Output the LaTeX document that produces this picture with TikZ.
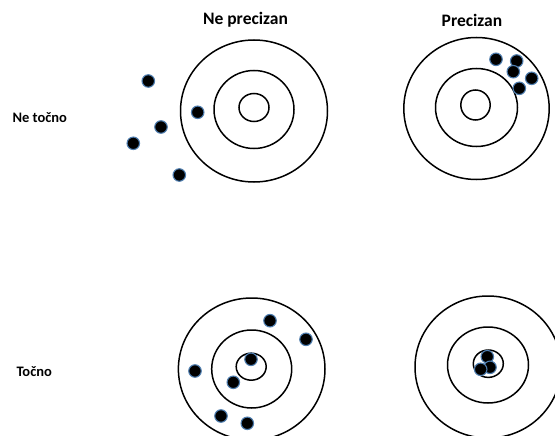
\documentclass[tikz,border=0pt]{standalone}
\usepackage{fontspec}
\setmainfont{Carlito}

\definecolor{halo}{RGB}{78,125,175}

\tikzset{
    ring/.style={line width=1.5pt},
    shot/.style={circle, fill=black, draw=halo, line width=1.1pt, inner sep=0pt, minimum size=12.5pt},
    title/.style={font=\bfseries\fontsize{17.5}{20}\selectfont},
    rowlabel/.style={font=\bfseries\fontsize{14.5}{17}\selectfont, anchor=base west}
}

\begin{document}
\begin{tikzpicture}[x=1pt, y=-1pt]

    \useasboundingbox[fill=white] (0,0) rectangle (555,436);

    % ne tocno, ne precizan
    \begin{scope}[shift={(254,109)}]
    \draw[ring] (0,2) ellipse (73.5 and 71);
    \draw[ring] (0,0.5) ellipse (40 and 39);
    \draw[ring] (0,-1.5) ellipse (15 and 14);
    \end{scope}

    % ne tocno, precizan
    \begin{scope}[shift={(476.5,107)}]
    \draw[ring] (0,1.5) ellipse (72.7 and 71);
    \draw[ring] (0,0.5) ellipse (41 and 39);
    \draw[ring] (-1,-2) ellipse (14.7 and 15);
    \end{scope}

    % tocno, ne precizan
    \begin{scope}[shift={(251.7,368)}]
    \draw[ring] (0,1) ellipse (73.3 and 71);
    \draw[ring] (0,1) ellipse (40 and 39);
    \draw[ring] (-0.5,-1.3) ellipse (15 and 13.5);
    \end{scope}

    % tocno, precizan
    \begin{scope}[shift={(488,365)}]
    \draw[ring] (0,2) ellipse (73 and 71);
    \draw[ring] (0,0) ellipse (40.5 and 38);
    \draw[ring] (0.3,-1.3) ellipse (15 and 13.7);
    \end{scope}

    % pogoci
    \node[shot] (a1) at (148.3,81) {};
    \node[shot] (a2) at (197.7,112.3) {};
    \node[shot] (a3) at (161,127) {};
    \node[shot] (a4) at (133.3,143.3) {};
    \node[shot] (a5) at (179.3,175) {};

    \node[shot] (b1) at (496,59.3) {};
    \node[shot] (b2) at (516.7,61) {};
    \node[shot] (b3) at (513.3,71.7) {};
    \node[shot] (b4) at (531.7,78.3) {};
    \node[shot] (b5) at (519.3,88.3) {};

    \node[shot] (c1) at (270,320.7) {};
    \node[shot] (c2) at (306,339.3) {};
    \node[shot] (c3) at (251,359.3) {};
    \node[shot] (c4) at (195,371) {};
    \node[shot] (c5) at (233.3,382.3) {};
    \node[shot] (c6) at (221,416) {};
    \node[shot] (c7) at (247.3,423.3) {};

    \node[shot] (d1) at (487.3,356.7) {};
    \node[shot] (d2) at (490,367.3) {};
    \node[shot] (d3) at (480.7,369.3) {};

    \node[title] (neprecizan) at (245.5,20) {Ne precizan};
    \node[title] (precizan) at (472,20) {Precizan};
    \node[rowlabel] (netocno) at (9,123) {Ne točno};
    \node[rowlabel] (tocno) at (13,376) {Točno};

\end{tikzpicture}
\end{document}
